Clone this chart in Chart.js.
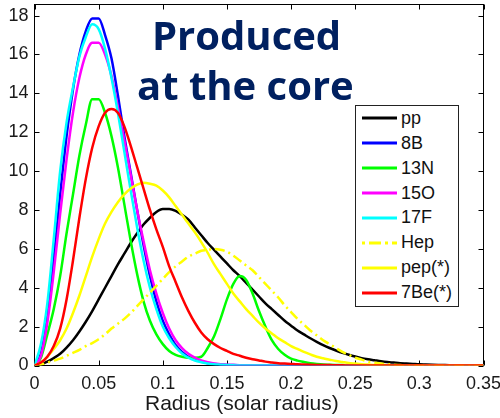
<!DOCTYPE html>
<html><head><meta charset="utf-8">
<script src="https://cdn.jsdelivr.net/npm/chart.js@4.4.0/dist/chart.umd.min.js"></script>
<style>
html,body{margin:0;padding:0;background:#fff;}
#wrap{position:relative;width:500px;height:418px;overflow:hidden;background:#fff;}
#c{position:absolute;left:0;top:0;}
.title{position:absolute;font-family:'Open Sans',sans-serif;font-weight:700;font-size:40px;line-height:50px;color:#002060;white-space:nowrap;}
#xlabel{position:absolute;left:145px;top:392px;font-family:'Liberation Sans',Arial,sans-serif;font-size:21px;line-height:21px;color:#1a1a1a;white-space:nowrap;}
#legend{position:absolute;left:355px;top:105px;width:102px;height:200px;border:1px solid #222;background:#fff;}
.row{position:absolute;left:0;height:25px;display:flex;align-items:center;font-family:'Liberation Sans',Arial,sans-serif;font-size:18px;color:#111;white-space:nowrap;}
.row svg{margin-left:6px;margin-right:4px;}
</style>
</head><body>
<div id="wrap">
<canvas id="c" width="500" height="418"></canvas>
<div class="title" style="left:152px;top:10px;">Produced</div>
<div class="title" style="left:137px;top:60px;">at the core</div>
<div id="xlabel">Radius (solar radius)</div>
<div id="legend"></div>
</div>
<script>
// x positions (solar radius)
const xs = [0,0.005,0.01,0.015,0.02,0.025,0.03,0.035,0.04,0.045,
 0.05,0.055,0.06,0.065,0.07,0.075,0.08,0.085,0.09,0.095,
 0.1,0.105,0.11,0.115,0.12,0.125,0.13,0.135,0.14,0.145,
 0.15,0.155,0.16,0.165,0.17,0.175,0.18,0.185,0.19,0.195,
 0.2,0.205,0.21,0.215,0.22,0.225,0.23,0.235,0.24,0.245,
 0.25,0.255,0.26,0.265,0.27,0.275,0.28,0.285,0.29,0.295,
 0.3,0.305,0.31,0.315,0.32,0.325,0.33,0.335,0.34,0.345,0.35];

const seriesNames = ['pp','8B','13N','15O','17F','Hep','pep(*)','7Be(*)'];
const seriesColors = ['#000000','#0000ff','#00ff00','#ff00ff','#00ffff','#ffff00','#ffff00','#ff0000'];

const pp = [0,0.05,0.2,0.38,0.6,0.92,1.3,1.75,2.25,2.8,
 3.4,4.0,4.6,5.2,5.75,6.3,6.8,7.25,7.6,7.9,
 8.05,8.05,7.95,7.75,7.5,7.1,6.7,6.3,5.95,5.6,
 5.25,4.9,4.6,4.25,3.9,3.55,3.2,2.9,2.6,2.3,
 2.05,1.8,1.6,1.4,1.22,1.05,0.9,0.77,0.65,0.55,
 0.46,0.38,0.32,0.27,0.22,0.18,0.15,0.12,0.1,0.08,
 0.06,0.05,0.04,0.03,0.02,0.015,0.01,0.01,0,0,0];
const b8 = [0,0.6,2.6,5.5,8.8,11.8,14.2,16.0,17.2,17.85,
 17.85,17.0,15.8,13.9,11.8,9.9,8.0,6.2,4.6,3.3,
 2.3,1.6,1.05,0.7,0.45,0.3,0.2,0.12,0.08,0.05,
 0.03,0.02,0.01,0,0,0,0,0,0,0,
 0,0,0,0,0,0,0,0,0,0,
 0,0,0,0,0,0,0,0,0,0,
 0,0,0,0,0,0,0,0,0,0,0];
const n13 = [0,0.4,1.6,2.9,4.6,6.8,8.8,10.8,12.4,13.7,
 13.7,13.0,11.8,10.2,8.3,6.4,4.7,3.3,2.3,1.6,
 1.1,0.75,0.55,0.45,0.4,0.4,0.45,0.9,1.5,2.4,
 3.4,4.2,4.6,4.4,3.7,2.8,2.0,1.3,0.85,0.55,
 0.35,0.25,0.18,0.12,0.08,0.05,0.04,0.03,0.02,0.01,
 0,0,0,0,0,0,0,0,0,0,
 0,0,0,0,0,0,0,0,0,0,0];
const o15 = [0,0.5,2.2,4.8,7.8,10.6,13.0,14.8,16.0,16.6,
 16.6,16.0,14.9,13.3,11.6,9.8,8.0,6.4,4.9,3.7,
 2.7,1.9,1.3,0.9,0.6,0.4,0.26,0.17,0.11,0.07,
 0.04,0.02,0.01,0,0,0,0,0,0,0,
 0,0,0,0,0,0,0,0,0,0,
 0,0,0,0,0,0,0,0,0,0,
 0,0,0,0,0,0,0,0,0,0,0];
const f17 = [0,1.1,3.2,6.5,10.0,12.5,14.3,15.9,16.9,17.55,
 17.3,16.3,14.8,13.0,11.0,9.0,7.1,5.4,4.0,2.9,
 2.0,1.4,0.95,0.62,0.4,0.26,0.17,0.1,0.06,0.04,
 0.02,0.01,0,0,0,0,0,0,0,0,
 0,0,0,0,0,0,0,0,0,0,
 0,0,0,0,0,0,0,0,0,0,
 0,0,0,0,0,0,0,0,0,0,0];
const hep = [0,0.05,0.15,0.25,0.35,0.5,0.65,0.8,1.0,1.15,
 1.35,1.6,1.9,2.15,2.4,2.7,3.05,3.4,3.75,4.1,
 4.45,4.8,5.1,5.35,5.6,5.75,5.9,5.95,6.0,5.95,
 5.85,5.65,5.4,5.15,4.9,4.55,4.2,3.85,3.5,3.1,
 2.75,2.4,2.1,1.8,1.55,1.3,1.1,0.9,0.7,0.55,
 0.4,0.3,0.2,0.14,0.1,0.07,0.04,0.02,0,0,
 0,0,0,0,0,0,0,0,0,0,0];
const pep = [0,0.15,0.45,0.85,1.3,1.9,2.7,3.6,4.6,5.6,
 6.5,7.3,7.9,8.4,8.8,9.1,9.3,9.4,9.35,9.25,
 9.0,8.65,8.2,7.75,7.3,6.85,6.35,5.8,5.2,4.7,
 4.2,3.7,3.3,2.9,2.55,2.2,1.9,1.65,1.4,1.2,
 1.0,0.85,0.7,0.57,0.45,0.37,0.3,0.23,0.18,0.13,
 0.1,0.07,0.05,0.03,0.02,0.01,0,0,0,0,
 0,0,0,0,0,0,0,0,0,0,0];
const be7 = [0,0.15,0.45,1.0,1.9,3.4,5.4,7.6,9.6,11.2,
 12.3,13.0,13.2,13.0,12.3,11.3,10.2,9.1,8.0,7.0,
 6.1,5.1,4.3,3.5,2.8,2.2,1.7,1.35,1.1,0.9,
 0.75,0.6,0.5,0.4,0.32,0.26,0.2,0.16,0.12,0.1,
 0.08,0.06,0.05,0.04,0.03,0.02,0.02,0.01,0.01,0,
 0,0,0,0,0,0,0,0,0,0,
 0,0,0,0,0,0,0,0,0,0,0];

const xTicks = [0,0.05,0.1,0.15,0.2,0.25,0.3,0.35];
const yTicks = [0,2,4,6,8,10,12,14,16,18];

const seriesData = [pp,b8,n13,o15,f17,hep,pep,be7];
const hepDash = [10,4,2,4];

const datasets = seriesData.map((arr,i)=>({
  label: seriesNames[i],
  data: xs.map((x,j)=>({x:x,y:arr[j]})),
  borderColor: seriesColors[i],
  backgroundColor: seriesColors[i],
  borderWidth: 2.5,
  borderDash: seriesNames[i]==='Hep' ? hepDash : [],
  pointRadius: 0,
  fill: false,
  cubicInterpolationMode: 'monotone',
  order: seriesData.length - i
}));

const axesBox = {
  id:'axesBox',
  beforeDatasetsDraw(chart){
    const {ctx, chartArea:a, scales:{x,y}} = chart;
    ctx.save();
    ctx.strokeStyle = '#000';
    ctx.lineWidth = 1;
    const L = Math.floor(a.left)+0.5, R = Math.floor(a.right)+0.5, T = Math.floor(a.top)+0.5, B = Math.floor(a.bottom)+0.5;
    ctx.strokeRect(L, T, R-L, B-T);
    const tl = 5;
    ctx.beginPath();
    x.ticks.forEach(t=>{
      const px = Math.round(x.getPixelForValue(t.value))+0.5;
      ctx.moveTo(px,B); ctx.lineTo(px,B-tl);
      ctx.moveTo(px,T); ctx.lineTo(px,T+tl);
    });
    y.ticks.forEach(t=>{
      const py = Math.round(y.getPixelForValue(t.value))+0.5;
      ctx.moveTo(L,py); ctx.lineTo(L+tl,py);
      ctx.moveTo(R,py); ctx.lineTo(R-tl,py);
    });
    ctx.stroke();
    ctx.restore();
  }
};

new Chart(document.getElementById('c'), {
  type:'line',
  data:{datasets:datasets},
  plugins:[axesBox],
  options:{
    responsive:false,
    animation:false,
    devicePixelRatio:1,
    layout:{padding:{top:4.5,right:16.5,left:0,bottom:0}},
    plugins:{legend:{display:false},tooltip:{enabled:false}},
    scales:{
      x:{
        type:'linear', min:0, max:0.35,
        afterFit(s){ s.height = 52.5; s.paddingLeft = 0; s.paddingRight = 0; },
        afterBuildTicks(s){ s.ticks = xTicks.map(v=>({value:v})); },
        grid:{display:false, drawTicks:false},
        border:{display:false},
        ticks:{padding:8, font:{family:'Liberation Sans', size:18}, color:'#1a1a1a', maxRotation:0, autoSkip:false,
          callback:(v)=>String(+Number(v).toFixed(2))}
      },
      y:{
        type:'linear', min:0, max:18.57,
        afterFit(s){ s.width = 34.5; s.paddingTop = 0; s.paddingBottom = 0; },
        afterBuildTicks(s){ s.ticks = yTicks.map(v=>({value:v})); },
        grid:{display:false, drawTicks:false},
        border:{display:false},
        ticks:{padding:6, font:{family:'Liberation Sans', size:18}, color:'#1a1a1a', autoSkip:false,
          callback:(v)=>String(v)}
      }
    }
  }
});

// legend (HTML, real text)
const leg = document.getElementById('legend');
seriesNames.forEach((name,i)=>{
  const row = document.createElement('div');
  row.className = 'row';
  row.style.top = (12.3 + i*24.9 - 12.5) + 'px';
  const dash = name==='Hep' ? ' stroke-dasharray="3 4 12 4"' : '';
  row.innerHTML = '<svg width="35" height="6"><line x1="0" y1="3" x2="35" y2="3" stroke="'+seriesColors[i]+'" stroke-width="3.2"'+dash+'/></svg><span>'+name+'</span>';
  leg.appendChild(row);
});
</script>
</body></html>
